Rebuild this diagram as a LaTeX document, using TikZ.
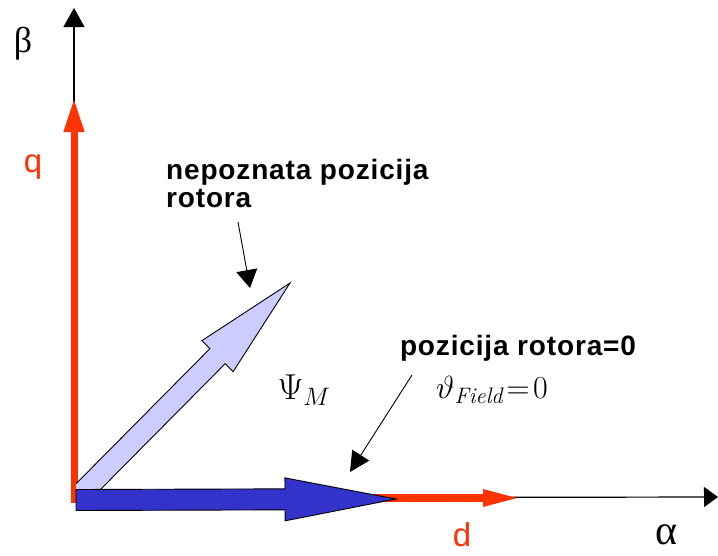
\RequirePackage{fix-cm}
\documentclass[tikz,border=0pt]{standalone}
\usepackage{fontspec}
\setsansfont{Liberation Sans}
\newfontfamily\grkserif{Liberation Serif}
\newfontfamily\notefont[LetterSpace=3]{Liberation Sans}
\usetikzlibrary{arrows.meta, calc}

\definecolor{vecred}{RGB}{255,51,0}
\definecolor{vecblue}{RGB}{51,51,204}
\definecolor{veclight}{RGB}{204,204,255}

% fat vector: #1 style, #2 tail, #3 tip, #4 half body, #5 half head, #6 head length
\newcommand{\fatvec}[6]{%
  \coordinate (fvh) at ($(#3)!#6!(#2)$);
  \draw[#1] ($(#2)!#4!90:(#3)$) -- ($(fvh)!#4!-90:(#2)$) -- ($(fvh)!#5!-90:(#2)$) -- (#3)
    -- ($(fvh)!#5!90:(#2)$) -- ($(fvh)!#4!90:(#2)$) -- ($(#2)!#4!-90:(#3)$) -- cycle;
}

\begin{document}
\begin{tikzpicture}[
      x=1pt, y=-1pt,
      axis/.style={line width=1.2pt, -{Triangle[length=19pt, width=21pt]}},
      redvec/.style={vecred},
      pointer/.style={line width=0.9pt, -{Triangle[length=18pt, width=21pt]}},
      lbl/.style={inner sep=0pt},
      greek/.style={lbl, font=\grkserif\fontsize{36}{36}\selectfont},
      axname/.style={lbl, text=vecred, font=\sffamily\fontsize{33}{33}\selectfont},
      note/.style={lbl, font=\notefont\bfseries\fontsize{28}{28}\selectfont, align=left},
      formula/.style={lbl, font=\fontsize{36}{40}\selectfont}
    ]
    \useasboundingbox (0,0) rectangle (718,555);

    % origin and vector tips
    \coordinate (o) at (74,498);
    \coordinate (betatip) at (74,8);
    \coordinate (alphatip) at (718,497);
    \coordinate (qtip) at (74,98);
    \coordinate (dtip) at (523,498);
    \coordinate (psitail) at (75,500);
    \coordinate (psitip) at (290,283);
    \coordinate (fieldtail) at (76,500);
    \coordinate (fieldtip) at (396,499);

    % axes
    \draw[axis] (o) -- (betatip);
    \draw[axis, -{Triangle[length=14pt, width=20pt]}] (o) -- (alphatip);

    % d-q frame
    \draw[redvec, line width=7pt, -{Triangle[length=34pt, width=19pt]}] ($(o)+(0,5)$) -- (qtip);
    \draw[redvec, line width=8pt, -{Triangle[length=40pt, width=15pt]}] (o) -- (dtip);

    % flux vectors
    \begin{scope}
      \clip (76,0) rectangle (718,555);
      \fatvec{fill=veclight, draw=black, line width=0.9pt}{psitail}{psitip}{10.7pt}{22pt}{103pt}
    \end{scope}
    \fatvec{fill=vecblue, draw=black, line width=0.9pt}{fieldtail}{fieldtip}{10.5pt}{21.5pt}{111pt}

    % labels
    \node[greek] (lblbeta) at (23,44) {β};
    \node[greek, font=\grkserif\fontsize{42}{42}\selectfont] (lblalpha) at (666,535) {α};
    \node[axname] (lblq) at (33,167) {q};
    \node[axname] (lbld) at (462,535) {d};
    \node[formula] (lblpsi) at (304,390) {$\Psi_M$};
    \node[formula, anchor=west, font=\fontsize{32}{36}\selectfont] (lbltheta) at (436,390) {$\vartheta_{\mathit{Field}}\!=\!0$};
    \node[note] (lblnula) at (518,348) {pozicija rotora=0};
    \node[note, anchor=north west] (lblnepoz) at (166,159) {nepoznata pozicija\\rotora};

    % pointers
    \coordinate (nepozfrom) at (238,222);
    \coordinate (nepozto) at (250,288);
    \coordinate (nulafrom) at (412,375);
    \coordinate (nulato) at (350,472);
    \draw[pointer] (nepozfrom) -- (nepozto);
    \draw[pointer, -{Triangle[length=20pt, width=20pt]}] (nulafrom) -- (nulato);
  \end{tikzpicture}
\end{document}
